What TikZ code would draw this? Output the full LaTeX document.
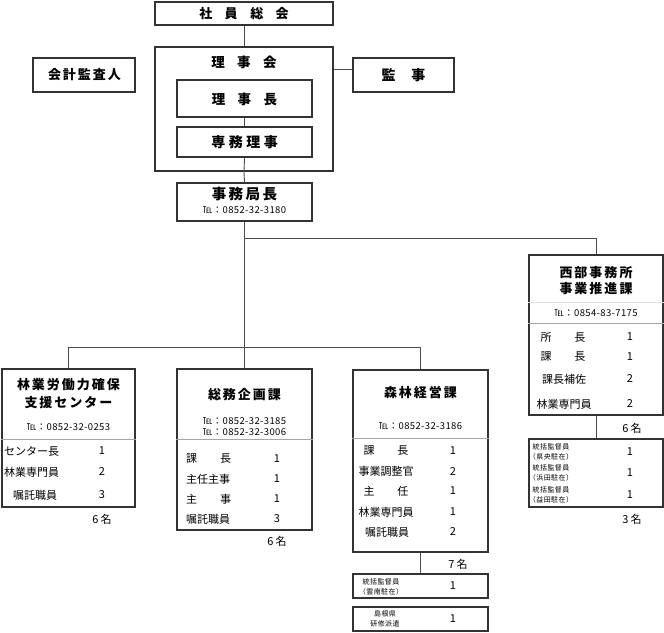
\documentclass[tikz,border=0pt]{standalone}
\usepackage{fontspec}
\setmainfont{Noto Sans CJK JP}
\newcommand{\fsz}[1]{\fontsize{#1}{#1}\selectfont}
\tikzset{
  box/.style={draw=black!80, line width=1.8pt, inner sep=0pt, fill=white},
  conn/.style={draw=black!70, line width=0.9pt},
  sepl/.style={draw=black!35, line width=0.6pt},
  tel/.style={inner sep=0pt, font=\fsz{9.5}\addfontfeature{LetterSpace=4}},
  rowt/.style={inner sep=0pt, font=\fsz{11}},
  tiny/.style={inner sep=0pt, font=\fontsize{7}{9.5}\selectfont\addfontfeature{LetterSpace=6}, align=center},
  cnt/.style={inner sep=0pt, font=\fsz{11}},
}
\begin{document}
\begin{tikzpicture}[x=1pt,y=-1pt]
\useasboundingbox (0,0) rectangle (664,632);
% ---------- boxes ----------
\node[box, minimum width=178, minimum height=23] (top) at (244,13.5) {};
\node[box, minimum width=178, minimum height=124] (rij) at (244,109) {};
\node[box, minimum width=135, minimum height=37] (rijicho) at (244.5,98.5) {};
\node[box, minimum width=135, minimum height=30] (senmu) at (244.5,142) {};
\node[box, minimum width=102, minimum height=34] (kaikei) at (84,75) {};
\node[box, minimum width=101, minimum height=34] (kanji) at (403.5,75) {};
\node[box, minimum width=135, minimum height=38] (jimu) at (244.5,202) {};
\node[box, minimum width=133, minimum height=138] (left) at (68.5,438) {};
\node[box, minimum width=135, minimum height=161] (mid) at (244.5,449.5) {};
\node[box, minimum width=135, minimum height=182] (shin) at (420.5,461) {};
\node[box, minimum width=135, minimum height=24] (sm1) at (420.5,586) {};
\node[box, minimum width=135, minimum height=24] (sm2) at (420.5,619) {};
\node[box, minimum width=134, minimum height=160] (west) at (596,335) {};
\node[box, minimum width=134, minimum height=68] (wsub) at (596,473) {};
% ---------- connectors ----------
\coordinate (kj) at (0,69);
\coordinate (j0) at (244.5,238);
\coordinate (j1) at (244.5,347);
\draw[conn] (top.south) -- (rij.north);
\draw[conn] (rijicho.south) -- (senmu.north);
\draw[conn] (senmu.south) -- (rij.south);
\draw[conn] (rij.south) -- (jimu.north);
\draw[conn] (rij.east |- kj) -- (kanji.west |- kj);
\draw[conn] (jimu.south) -- (mid.north);
\draw[conn] (j0) -| (west.north);
\draw[conn] (left.north) -- (left.north |- j1) -- (shin.north |- j1) -- (shin.north);
\draw[conn] (shin.south) -- (sm1.north);
\draw[conn] (west.south) -- (wsub.north);
% separators
\draw[sepl] (left.west |- 0,439) -- (left.east |- 0,439);
\draw[sepl] (mid.west |- 0,439) -- (mid.east |- 0,439);
\draw[sepl] (shin.west |- 0,438) -- (shin.east |- 0,438);
\draw[sepl] (west.west |- 0,323) -- (west.east |- 0,323);
\draw[draw=black!12, line width=0.5pt] (west.west |- 0,302) -- (west.east |- 0,302);
% ---------- top texts ----------
\node[inner sep=0pt, font=\fsz{13}\bfseries] (tTop) at (244,13.5) {社\hspace{12.5pt}員\hspace{12.5pt}総\hspace{12.5pt}会};
\node[inner sep=0pt, font=\fsz{13.5}\bfseries] (tRij) at (244,62) {理\hspace{12.5pt}事\hspace{12.5pt}会};
\node[inner sep=0pt, font=\fsz{13.5}\bfseries] (tRijicho) at (244.5,99) {理\hspace{12.5pt}事\hspace{12.5pt}長};
\node[inner sep=0pt, font=\fsz{14}\bfseries] (tSenmu) at (244.5,142.5) {専\hspace{3.5pt}務\hspace{3.5pt}理\hspace{3.5pt}事};
\node[inner sep=0pt, font=\fsz{13}\bfseries] (tKaikei) at (84.5,75) {会\hspace{2pt}計\hspace{2pt}監\hspace{2pt}査\hspace{2pt}人};
\node[inner sep=0pt, font=\fsz{14}\bfseries] (tKanji) at (403.5,75) {監\hspace{16pt}事};
\node[inner sep=0pt, font=\fsz{14.5}\bfseries] (tJimu) at (244.5,194) {事\hspace{2.5pt}務\hspace{2.5pt}局\hspace{2.5pt}長};
\node[tel] (telJimu) at (244.5,210) {℡：0852-32-3180};
% ---------- left box ----------
\node[inner sep=0pt, font=\fsz{13}\bfseries] (tL1) at (68.5,385) {林\hspace{2pt}業\hspace{2pt}労\hspace{2pt}働\hspace{2pt}力\hspace{2pt}確\hspace{2pt}保};
\node[inner sep=0pt, font=\fsz{13}\bfseries] (tL2) at (68.5,403) {支\hspace{2pt}援\hspace{2pt}セ\hspace{2pt}ン\hspace{2pt}タ\hspace{2pt}ー};
\node[tel] (telL) at (68.5,427) {℡：0852-32-0253};
\node[rowt, anchor=west] (l1) at (4,451) {センター長};
\node[rowt, anchor=west] (l2) at (4,472) {林業専門員};
\node[rowt] (l3) at (35,495) {嘱託職員};
\node[rowt] (l1n) at (102,451) {1};
\node[rowt] (l2n) at (102,472) {2};
\node[rowt] (l3n) at (102,495) {3};
\node[cnt] (lc) at (102,519) {6\hspace{2pt}名};
% ---------- middle box ----------
\node[inner sep=0pt, font=\fsz{13}\bfseries] (tM) at (244.5,395) {総\hspace{2pt}務\hspace{2pt}企\hspace{2pt}画\hspace{2pt}課};
\node[tel] (telM1) at (244.5,421) {℡：0852-32-3185};
\node[tel] (telM2) at (244.5,432) {℡：0852-32-3006};
\node[rowt, anchor=west] (m1) at (186,459) {課\hspace{23pt}長};
\node[rowt, anchor=west] (m2) at (186,479) {主任主事};
\node[rowt, anchor=west] (m3) at (186,499) {主\hspace{23pt}事};
\node[rowt, anchor=west] (m4) at (186,519) {嘱託職員};
\node[rowt] (m1n) at (277,459) {1};
\node[rowt] (m2n) at (277,479) {1};
\node[rowt] (m3n) at (277,499) {1};
\node[rowt] (m4n) at (277,519) {3};
\node[cnt] (mc) at (277,541) {6\hspace{2pt}名};
% ---------- shinrin box ----------
\node[inner sep=0pt, font=\fsz{13}\bfseries] (tS) at (420.5,393) {森\hspace{2pt}林\hspace{2pt}経\hspace{2pt}営\hspace{2pt}課};
\node[tel] (telS) at (420.5,426) {℡：0852-32-3186};
\node[rowt] (s1) at (386,451) {課\hspace{23pt}長};
\node[rowt] (s2) at (386,471) {事業調整官};
\node[rowt] (s3) at (386,491) {主\hspace{23pt}任};
\node[rowt] (s4) at (386,512) {林業専門員};
\node[rowt] (s5) at (387,532) {嘱託職員};
\node[rowt] (s1n) at (453,451) {1};
\node[rowt] (s2n) at (453,471) {2};
\node[rowt] (s3n) at (453,491) {1};
\node[rowt] (s4n) at (453,512) {1};
\node[rowt] (s5n) at (453,532) {2};
\node[cnt] (sc) at (458,564) {7\hspace{2pt}名};
\node[tiny] (sm1t) at (381,587) {統括監督員\\（雲南駐在）};
\node[rowt] (sm1n) at (453,586) {1};
\node[tiny] (sm2t) at (385,619) {島根県\\研修派遣};
\node[rowt] (sm2n) at (453,619) {1};
% ---------- west box ----------
\node[inner sep=0pt, font=\fsz{13}\bfseries] (tW1) at (596,273) {西\hspace{2pt}部\hspace{2pt}事\hspace{2pt}務\hspace{2pt}所};
\node[inner sep=0pt, font=\fsz{13}\bfseries] (tW2) at (596,289) {事\hspace{2pt}業\hspace{2pt}推\hspace{2pt}進\hspace{2pt}課};
\node[tel] (telW) at (596,313) {℡：0854-83-7175};
\node[rowt] (w1) at (563,337) {所\hspace{23pt}長};
\node[rowt] (w2) at (563,357) {課\hspace{23pt}長};
\node[rowt] (w3) at (564,379) {課長補佐};
\node[rowt] (w4) at (564,404) {林業専門員};
\node[rowt] (w1n) at (630,337) {1};
\node[rowt] (w2n) at (630,357) {1};
\node[rowt] (w3n) at (630,379) {2};
\node[rowt] (w4n) at (630,404) {2};
\node[cnt] (wc) at (632,428) {6\hspace{2pt}名};
\node[tiny] (ws1) at (551,452) {統括監督員\\（県央駐在）};
\node[tiny] (ws2) at (551,473) {統括監督員\\（浜田駐在）};
\node[tiny] (ws3) at (551,495) {統括監督員\\（益田駐在）};
\node[rowt] (ws1n) at (630,452) {1};
\node[rowt] (ws2n) at (630,473) {1};
\node[rowt] (ws3n) at (630,495) {1};
\node[cnt] (wsc) at (632,519) {3\hspace{2pt}名};
\end{tikzpicture}
\end{document}
